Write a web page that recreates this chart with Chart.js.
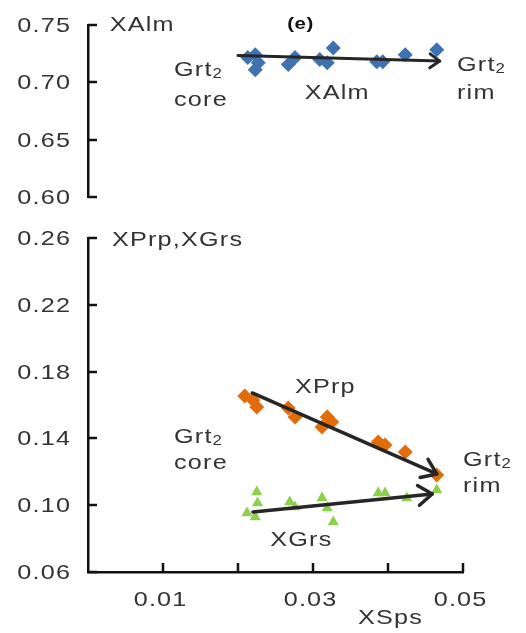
<!DOCTYPE html>
<html>
<head>
<meta charset="utf-8">
<script src="https://cdn.jsdelivr.net/npm/chart.js@4.4.1/dist/chart.umd.min.js"></script>
<style>
  html, body { margin: 0; padding: 0; background: #fff; }
  #wrap { position: relative; width: 526px; height: 633px; overflow: hidden; }
  #almChart { position: absolute; left: 0; top: 0; }
  #prpGrsChart { position: absolute; left: 0; top: 215px; }
</style>
</head>
<body>
<div id="wrap">
  <canvas id="almChart" width="526" height="215"></canvas>
  <canvas id="prpGrsChart" width="526" height="418"></canvas>
</div>
<script>
// Garnet Grt2 profile: end-member fractions against spessartine (XSps)
const almXsps = [0.0213, 0.0223, 0.0227, 0.0223, 0.0267, 0.0276, 0.0309, 0.0319, 0.0327, 0.0385, 0.0393, 0.0423, 0.0465];
const almValues = [0.7216, 0.7240, 0.7170, 0.7110, 0.7155, 0.7216, 0.7200, 0.7170, 0.7300, 0.7180, 0.7180, 0.7240, 0.7285];

const prpXsps = [0.0209, 0.0220, 0.0225, 0.0267, 0.0276, 0.0312, 0.0319, 0.0325, 0.0387, 0.0396, 0.0423, 0.0465];
const prpValues = [0.1654, 0.1630, 0.1588, 0.1582, 0.1528, 0.1468, 0.1528, 0.1498, 0.1378, 0.1360, 0.1319, 0.1181];

const grsXsps = [0.0225, 0.0226, 0.0212, 0.0223, 0.0269, 0.0276, 0.0312, 0.0319, 0.0327, 0.0387, 0.0396, 0.0425, 0.0465];
const grsValues = [0.1079, 0.1013, 0.0953, 0.0929, 0.1019, 0.0989, 0.1043, 0.0983, 0.0900, 0.1073, 0.1073, 0.1043, 0.1091];

// Core-to-rim trend arrows (start, end)
const almTrendX = [0.0200, 0.0469];
const almTrendY = [0.7235, 0.7185];
const prpTrendX = [0.0219, 0.0465];
const prpTrendY = [0.1672, 0.1187];
const grsTrendX = [0.0220, 0.0459];
const grsTrendY = [0.0959, 0.1067];

// Axis ranges and tick labels
const xRange = [0, 0.05];
const xStep = 0.01;
const xTickLabels = ['0.01', '0.03', '0.05'];
const almRange = [0.60, 0.75];
const almStep = 0.05;
const prpGrsRange = [0.06, 0.26];
const prpGrsStep = 0.04;

const FONT = '"Liberation Sans", Arial, Helvetica, sans-serif';
const TEXT_COLOR = '#333333';
const STRETCH = 1.2;

function pts(xs, ys) { return xs.map((x, i) => ({ x: x, y: ys[i] })); }

// Wide-set text: slight horizontal stretch plus letter spacing
function drawText(ctx, text, x, y, opts) {
  const o = Object.assign({ size: 21, bold: false, align: 'left', color: TEXT_COLOR, spacing: 1 }, opts || {});
  ctx.save();
  ctx.translate(x, y);
  ctx.scale(STRETCH, 1);
  ctx.font = (o.bold ? 'bold ' : '') + o.size + 'px ' + FONT;
  ctx.letterSpacing = o.spacing + 'px';
  ctx.fillStyle = o.color;
  ctx.textAlign = o.align;
  ctx.textBaseline = 'middle';
  let dx = 0;
  if (o.align === 'right') dx = o.spacing;
  else if (o.align === 'center') dx = o.spacing / 2;
  ctx.fillText(text, dx, 0);
  const w = (ctx.measureText(text).width - o.spacing) * STRETCH;
  ctx.restore();
  return w;
}

// Open chevron arrowheads on trend datasets, plus inward axis ticks and all text
const decorPlugin = {
  id: 'decor',
  afterDatasetsDraw(chart) {
    const ctx = chart.ctx;
    chart.data.datasets.forEach((ds, i) => {
      if (!ds.arrowHead) return;
      const els = chart.getDatasetMeta(i).data;
      const a = els[els.length - 2], b = els[els.length - 1];
      const ang = Math.atan2(b.y - a.y, b.x - a.x);
      const len = ds.arrowHead, spread = 0.62;
      ctx.save();
      ctx.strokeStyle = ds.borderColor;
      ctx.lineWidth = ds.borderWidth;
      ctx.lineCap = 'round';
      ctx.lineJoin = 'round';
      ctx.beginPath();
      ctx.moveTo(b.x - len * Math.cos(ang - spread), b.y - len * Math.sin(ang - spread));
      ctx.lineTo(b.x, b.y);
      ctx.lineTo(b.x - len * Math.cos(ang + spread), b.y - len * Math.sin(ang + spread));
      ctx.stroke();
      ctx.restore();
    });
  },
  afterDraw(chart) {
    const ctx = chart.ctx;
    const xs = chart.scales.x, ys = chart.scales.y;
    const cfg = chart.options.plugins.decor;
    ctx.save();
    ctx.strokeStyle = '#111';
    ctx.lineWidth = 2.5;
    // y ticks pointing into the plot
    ys.ticks.forEach(t => {
      const py = Math.round(ys.getPixelForValue(t.value));
      ctx.beginPath();
      ctx.moveTo(ys.right, py);
      ctx.lineTo(ys.right + 9, py);
      ctx.stroke();
      drawText(ctx, t.value.toFixed(2), ys.right - 18, py + 1, { align: 'right' });
    });
    if (cfg.xAxis) {
      const base = chart.chartArea.bottom;
      xs.ticks.forEach(t => {
        if (t.value <= 0) return;
        const px = Math.round(xs.getPixelForValue(t.value));
        ctx.beginPath();
        ctx.moveTo(px, base);
        ctx.lineTo(px, base - 9);
        ctx.stroke();
        const lbl = t.value.toFixed(2);
        if (xTickLabels.includes(lbl)) {
          drawText(ctx, lbl, px - 3, base + 28, { align: 'center' });
        }
      });
    }
    ctx.restore();
    // annotations placed in data coordinates
    cfg.notes.forEach(n => {
      const px = xs.getPixelForValue(n.x);
      const py = ys.getPixelForValue(n.y);
      const w = drawText(ctx, n.text, px, py, { size: n.size || 21, bold: n.bold, align: n.align || 'left', spacing: n.bold ? 0.5 : 1, color: n.bold ? '#111' : TEXT_COLOR });
      if (n.sub) {
        drawText(ctx, n.sub, px + w + 1, py + 4, { size: 14, spacing: 0 });
      }
    });
  }
};

function scatterSet(data, color, style, radius) {
  return {
    type: 'scatter', data: data, backgroundColor: color, borderColor: color,
    borderWidth: 0, pointStyle: style, pointRadius: radius, pointHoverRadius: radius, order: 2
  };
}
function arrowSet(xs, ys, width, head) {
  return {
    type: 'line', data: pts(xs, ys), borderColor: '#262626', borderWidth: width,
    pointRadius: 0, fill: false, arrowHead: head, order: 1, borderCapStyle: 'round'
  };
}

function baseOptions(yRange, yStep, showX, padding, xHeight, notes) {
  return {
    responsive: false,
    animation: false,
    events: [],
    layout: { padding: padding },
    plugins: {
      legend: { display: false },
      tooltip: { enabled: false },
      decor: { xAxis: showX, notes: notes }
    },
    scales: {
      x: {
        type: 'linear', display: showX, min: xRange[0], max: xRange[1],
        ticks: { display: false, stepSize: xStep },
        grid: { display: false },
        border: { display: true, color: '#111', width: 2.5 },
        afterFit(s) { s.height = xHeight; }
      },
      y: {
        type: 'linear', min: yRange[0], max: yRange[1],
        ticks: { display: false, stepSize: yStep },
        grid: { display: false },
        border: { display: true, color: '#111', width: 2.5 },
        afterFit(s) { s.width = 88; }
      }
    }
  };
}

new Chart(document.getElementById('almChart'), {
  data: {
    datasets: [
      arrowSet(almTrendX, almTrendY, 3, 12),
      scatterSet(pts(almXsps, almValues), '#3f72b0', 'rectRot', 7.5)
    ]
  },
  options: baseOptions(almRange, almStep, false, { left: 0, right: 63, top: 25, bottom: 18 }, 0, [
    { text: 'XAlm', x: 0.0029, y: 0.7500 },
    { text: '(e)', x: 0.0283, y: 0.7508, size: 17, bold: true, align: 'center' },
    { text: 'Grt', sub: '2', x: 0.01147, y: 0.7108 },
    { text: 'core', x: 0.01147, y: 0.6846 },
    { text: 'XAlm', x: 0.0289, y: 0.6907 },
    { text: 'Grt', sub: '2', x: 0.0492, y: 0.7151 },
    { text: 'rim', x: 0.0492, y: 0.6907 }
  ]),
  plugins: [decorPlugin]
});

new Chart(document.getElementById('prpGrsChart'), {
  data: {
    datasets: [
      arrowSet(prpTrendX, prpTrendY, 3.5, 17),
      arrowSet(grsTrendX, grsTrendY, 3.5, 17),
      scatterSet(pts(prpXsps, prpValues), '#e36c0a', 'rectRot', 7.5),
      scatterSet(pts(grsXsps, grsValues), '#8fcf4f', 'triangle', 6.5)
    ]
  },
  options: baseOptions(prpGrsRange, prpGrsStep, true, { left: 0, right: 63, top: 23, bottom: 0 }, 61, [
    { text: 'XPrp,XGrs', x: 0.0032, y: 0.2588 },
    { text: 'XPrp', x: 0.0276, y: 0.1708 },
    { text: 'Grt', sub: '2', x: 0.01147, y: 0.1408 },
    { text: 'core', x: 0.01147, y: 0.1253 },
    { text: 'XGrs', x: 0.0243, y: 0.0792 },
    { text: 'Grt', sub: '2', x: 0.0500, y: 0.1271 },
    { text: 'rim', x: 0.0500, y: 0.1115 },
    { text: 'XSps', x: 0.0360, y: 0.0325 }
  ]),
  plugins: [decorPlugin]
});
</script>
</body>
</html>
